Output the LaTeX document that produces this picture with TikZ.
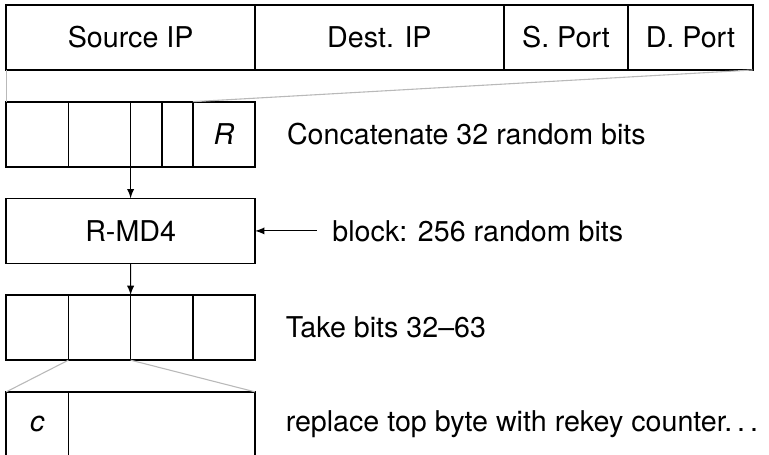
\documentclass[tikz,border=0pt]{standalone}
\usepackage{fontspec}
\setmainfont{TeX Gyre Heros}
\usetikzlibrary{calc,positioning}
\newcommand{\spdots}{.\kern0.17em.\kern0.17em.}
\tikzset{
	cell/.style={draw, line width=0.8pt, rectangle, minimum height=1.045cm, outer sep=0pt, inner sep=0pt},
	zoomline/.style={gray!55, line width=0.5pt},
	flow/.style={->, line width=0.5pt}
}

\begin{document}
\begin{tikzpicture}[>=latex, font=\fontsize{13.1}{15.7}\selectfont]
    \useasboundingbox (0,0) rectangle (12.363,-7.299);
    % header fields
    \node[cell, minimum width=4cm, anchor=north west] (sip) at (0.1,-0.08) {Source IP};
    \node[cell, minimum width=4cm, right=0pt of sip] (dip) {Dest. IP};
    \node[cell, minimum width=2cm, right=0pt of dip] (sport) {S. Port};
    \node[cell, minimum width=2cm, right=0pt of sport] (dport) {D. Port};
    
    % hashed input
    \node[cell, minimum width=1cm, anchor=north west] (hsip) at (0.1,-1.635) {};
    \node[cell, minimum width=1cm, right=0pt of hsip] (hdip) {};
    \node[cell, minimum width=0.5cm, right=0pt of hdip] (hsport) {};
    \node[cell, minimum width=0.5cm, right=0pt of hsport] (hdport) {};
    \node[cell, minimum width=1cm, right=0pt of hdport] (rnd) {\textit{R}};
    \node[right=0.39cm of rnd] (concat) {Concatenate 32 random bits};
    \draw[zoomline] (sip.south west) -- (hsip.north west);
    \draw[zoomline] (dport.south east) -- (hdport.north east);
    
    % hash
    \node[cell, minimum width=4cm, anchor=north west] (md4) at (0.1,-3.19) {R-MD4};
    \node[right=1.12cm of md4] (block) {block: 256 random bits};
    \draw[flow] (hdip.south east) -- (hdip.south east |- md4.north);
    \draw[flow, shorten <=0.13cm] (block) -- (md4);
    
    % output words
    \node[cell, minimum width=1cm, anchor=north west] (w1) at (0.1,-4.745) {};
    \node[cell, minimum width=1cm, right=0pt of w1] (w2) {};
    \node[cell, minimum width=1cm, right=0pt of w2] (w3) {};
    \node[cell, minimum width=1cm, right=0pt of w3] (w4) {};
    \node[right=0.37cm of w4] (take) {Take bits 32--63};
    \draw[flow] (md4.south) -- (w2.north east);
    
    % rekeyed word
    \node[cell, minimum width=1cm, anchor=north west] (ctr) at (0.1,-6.30) {\textit{c}};
    \node[cell, minimum width=3cm, right=0pt of ctr] (rest) {};
    \node[right=0.37cm of rest] (repl) {replace top byte with rekey counter\spdots};
    \draw[zoomline] (w1.south east) -- (ctr.north west);
    \draw[zoomline] (w2.south east) -- (rest.north east);
\end{tikzpicture}
\end{document}
